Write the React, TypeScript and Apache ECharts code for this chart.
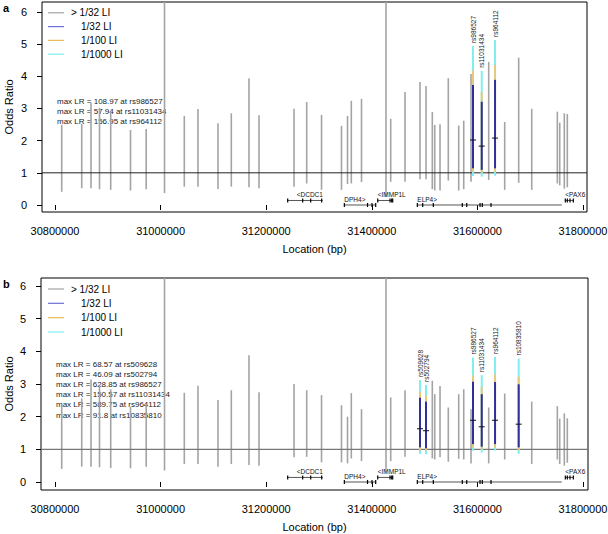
import React, { useEffect, useRef } from "react";
import * as echarts from "echarts";

const FONT = '"Liberation Sans", Arial, Helvetica, sans-serif';

// ---------- axis ticks ----------
const xTicks = [30800000, 31000000, 31200000, 31400000, 31600000, 31800000];
const yTicks = [0, 1, 2, 3, 4, 5, 6];

// ---------- SNP positions (bp) ----------
const snpPos = [
  30812700, 30850600, 30868200, 30884300, 30905500, 30943000, 30972700, 31007400,
  31044900, 31070800, 31108700, 31133900, 31167400, 31186400, 31252700, 31276700,
  31304800, 31342600, 31354000, 31361200, 31380500, 31426900, 31435800, 31462900,
  31491300, 31502700, 31514600, 31519200, 31529200, 31544900, 31564600, 31574100,
  31587900, 31591700, 31608200, 31621400, 31633400, 31651700, 31678200, 31702900,
  31751400, 31755900, 31764600, 31770300,
];
// upper limit beyond plotted range (off scale)
const OFF = 10;

// panel a: grey (> 1/32 LI) intervals; null = highlighted SNP
const grayLoA = [
  0.41, 0.52, 0.52, 0.49, 0.47, 0.45, 0.49, 0.37, 0.57, 0.57, 0.50, 0.57, 0.55, 0.52, 0.57, 0.67,
  0.47, 0.47, 0.65, 0.67, 0.71, 0.25, 0.72, 0.72, 0.80, 0.80, 0.49, 0.45, 0.45, 0.76, 0.45, 0.49,
  0.72, null, null, 0.78, null, 0.47, 0.69, 0.47, 0.67, 0.61, 0.51, 0.55,
];
const grayHiA = [
  2.49, 2.52, 3.17, 3.02, 2.90, 2.33, 2.36, OFF, 2.77, 2.98, 2.54, 2.85, 3.94, 2.79, 2.99, 3.20,
  2.80, 2.46, 2.77, 3.24, 3.30, OFF, 2.68, 3.51, 3.82, 3.70, 2.89, 2.49, 2.51, 3.94, 2.47, 2.62,
  4.07, null, null, 4.45, null, 2.58, 4.58, 2.99, 2.90, 2.56, 2.85, 2.83,
];
// panel b
const grayLoB = [
  0.40, 0.47, 0.47, 0.45, 0.43, 0.42, 0.47, 0.35, 0.55, 0.55, 0.47, 0.55, 0.52, 0.50, 0.76, 0.77,
  0.60, 0.60, 0.57, 0.72, 0.64, 0.30, 0.64, 0.77, null, null, 0.72, 0.69, 0.76, 0.62, 0.71, 0.69,
  0.57, null, null, 0.57, null, 0.69, null, 0.55, 0.69, 0.55, 0.50, 0.59,
];
const grayHiB = [
  2.35, 2.56, 3.14, 2.97, 2.84, 2.30, 2.35, OFF, 2.73, 2.95, 2.51, 2.81, 3.88, 2.75, 3.00, 2.81,
  2.66, 2.35, 2.00, 2.72, 2.23, OFF, 2.59, 2.81, null, null, 3.10, 2.69, 2.94, 2.28, 2.69, 2.84,
  2.23, null, null, 2.28, null, 2.71, null, 2.46, 2.32, 1.94, 2.10, 1.95,
];

// ---------- highlighted SNPs ----------
const hlNameA = ["rs986527", "rs11031434", "rs964112"];
const hlPosA = [31591700, 31608200, 31633400];
const hlEstA = [2.02, 1.83, 2.08];
const hlLo32A = [1.14, 1.09, 1.14];
const hlHi32A = [3.73, 3.21, 3.89];
const hlLo100A = [1.03, 1.0, 1.03];
const hlHi100A = [4.18, 3.51, 4.35];
const hlLo1000A = [0.9, 0.88, 0.91];
const hlHi1000A = [4.94, 4.17, 5.13];

const hlNameB = ["rs509628", "rs502794", "rs986527", "rs11031434", "rs964112", "rs10835810"];
const hlPosB = [31491300, 31502700, 31591700, 31608200, 31633400, 31678200];
const hlEstB = [1.63, 1.57, 1.89, 1.69, 1.89, 1.77];
const hlLo32B = [1.06, 1.03, 1.16, 1.08, 1.16, 1.06];
const hlHi32B = [2.58, 2.46, 3.07, 2.69, 3.06, 2.99];
const hlLo100B = [0.97, 0.95, 1.05, 0.99, 1.05, 0.97];
const hlHi100B = [2.76, 2.64, 3.27, 2.9, 3.3, 3.22];
const hlLo1000B = [0.86, 0.85, 0.96, 0.9, 0.96, 0.86];
const hlHi1000B = [3.12, 2.97, 3.81, 3.27, 3.83, 3.78];

// ---------- max LR annotations ----------
const maxLRA = [108.97, 57.94, 156.95];
const maxLRSnpA = ["rs986527", "rs11031434", "rs964112"];
const maxLRB = [68.57, 46.09, 628.85, 150.57, 589.75, 91.8];
const maxLRSnpB = ["rs509628", "rs502794", "rs986527", "rs11031434", "rs964112", "rs10835810"];

// ---------- genes ----------
const geneLabel = ["<DCDC1", "DPH4>", "<IMMP1L", "ELP4>", "<PAX6"];
const geneStart = [31240700, 31348000, 31411200, 31486200, 31766500];
const geneEnd = [31307000, 31407400, 31439600, 31759700, 31781700];
const geneTrack = [1, 0, 1, 0, 1];
const geneLabelPos = [31257800, 31348000, 31411200, 31486200, 31766500];
const geneExons = [
  [31240700, 31269100, 31284300, 31305100],
  [31348000, 31391900, 31400400, 31407400],
  [31411200, 31434500, 31437700, 31439600],
  [31486200, 31496400, 31516500, 31571400, 31579800, 31605000, 31609300, 31625800],
  [31766500, 31770300, 31775400, 31781700],
];

// ---------- legend ----------
const legendLabels = ["> 1/32 LI", "1/32 LI", "1/100 LI", "1/1000 LI"];

const GRAY = "#a4a4a4";
const BLUE = "#30309c";
const YELLOW = "#e9c878";
const CYAN = "#7eeeee";
const legendColors = [GRAY, "#6e6ed6", "#e8bc55", "#80eeee"];

type Panel = {
  grid: { left: number; top: number; width: number; height: number };
  xMin: number; xMax: number; yMin: number; yMax: number;
  grayLo: (number | null)[]; grayHi: (number | null)[];
  hlName: string[]; hlPos: number[]; hlEst: number[];
  lo32: number[]; hi32: number[]; lo100: number[]; hi100: number[]; lo1000: number[]; hi1000: number[];
  refColor: string; refWidth: number;
};

const panels: Panel[] = [
  {
    grid: { left: 42, top: 2, width: 545, height: 210 },
    xMin: 30775380, xMax: 31807576, yMin: -0.218, yMax: 6.31,
    grayLo: grayLoA, grayHi: grayHiA,
    hlName: hlNameA, hlPos: hlPosA, hlEst: hlEstA,
    lo32: hlLo32A, hi32: hlHi32A, lo100: hlLo100A, hi100: hlHi100A, lo1000: hlLo1000A, hi1000: hlHi1000A,
    refColor: "#222", refWidth: 1,
  },
  {
    grid: { left: 41, top: 278, width: 547, height: 212 },
    xMin: 30773480, xMax: 31809470, yMin: -0.245, yMax: 6.245,
    grayLo: grayLoB, grayHi: grayHiB,
    hlName: hlNameB, hlPos: hlPosB, hlEst: hlEstB,
    lo32: hlLo32B, hi32: hlHi32B, lo100: hlLo100B, hi100: hlHi100B, lo1000: hlLo1000B, hi1000: hlHi1000B,
    refColor: "#777", refWidth: 1.4,
  },
];

function intervalSeries(g: number, data: number[][], color: string, width: number, yMax: number, z: number) {
  return {
    type: "custom", xAxisIndex: g, yAxisIndex: g, data, z, silent: true,
    renderItem: (_p: any, api: any) => {
      const x = api.value(0);
      const lo = api.value(1);
      const hi = Math.min(api.value(2), yMax);
      const a = api.coord([x, lo]);
      const b = api.coord([x, hi]);
      return { type: "line", shape: { x1: a[0], y1: a[1], x2: b[0], y2: b[1] }, style: { stroke: color, lineWidth: width } };
    },
  };
}

function buildOption() {
  const grids: any[] = [];
  const xAxes: any[] = [];
  const yAxes: any[] = [];
  const series: any[] = [];
  const graphic: any[] = [];

  panels.forEach((P, g) => {
    grids.push({
      ...P.grid, show: true, borderColor: "#000", borderWidth: 1, backgroundColor: "transparent",
      containLabel: false, outerBoundsMode: "none",
    });
    xAxes.push({
      type: "value", gridIndex: g, min: P.xMin, max: P.xMax,
      axisLine: { show: false }, splitLine: { show: false },
      axisTick: { show: true, customValues: xTicks, length: 5, lineStyle: { color: "#000", width: 1 } },
      axisLabel: { show: true, customValues: xTicks, formatter: (v: number) => String(v), fontSize: 11, color: "#000", margin: 13, fontFamily: FONT },
      name: "Location (bp)", nameLocation: "middle", nameGap: 31,
      nameTextStyle: { fontSize: 11, color: "#000", fontFamily: FONT },
    });
    yAxes.push({
      type: "value", gridIndex: g, min: P.yMin, max: P.yMax,
      axisLine: { show: false }, splitLine: { show: false },
      axisTick: { show: true, customValues: yTicks, length: 5, lineStyle: { color: "#000", width: 1 } },
      axisLabel: { show: true, customValues: yTicks, fontSize: 11, color: "#000", margin: 15, fontFamily: FONT },
    });

    // y-axis title
    graphic.push({
      type: "text", x: 8.5, y: P.grid.top + P.grid.height / 2, rotation: Math.PI / 2,
      style: { text: "Odds Ratio", font: `11px ${FONT}`, fill: "#000", align: "center", verticalAlign: "middle" },
    });

    // reference line at OR = 1
    series.push({
      type: "custom", xAxisIndex: g, yAxisIndex: g, data: [[1]], z: 5, silent: true,
      renderItem: (params: any, api: any) => {
        const cs = params.coordSys;
        const y = api.coord([P.xMin, api.value(0)])[1];
        return { type: "line", shape: { x1: cs.x, y1: y, x2: cs.x + cs.width, y2: y }, style: { stroke: P.refColor, lineWidth: P.refWidth } };
      },
    });

    // grey intervals
    const grayData: number[][] = [];
    snpPos.forEach((p, k) => {
      const lo = P.grayLo[k];
      const hi = P.grayHi[k];
      if (lo != null && hi != null) grayData.push([p, lo, hi]);
    });
    series.push(intervalSeries(g, grayData, GRAY, 1.6, P.yMax, 2));

    // highlighted: 1/1000, 1/100, 1/32
    series.push(intervalSeries(g, P.hlPos.map((p, i) => [p, P.lo1000[i], P.hi1000[i]]), CYAN, 2, P.yMax, 6));
    series.push(intervalSeries(g, P.hlPos.map((p, i) => [p, P.lo100[i], P.hi100[i]]), YELLOW, 2, P.yMax, 7));
    series.push(intervalSeries(g, P.hlPos.map((p, i) => [p, P.lo32[i], P.hi32[i]]), BLUE, 2, P.yMax, 8));

    // point estimates
    series.push({
      type: "custom", xAxisIndex: g, yAxisIndex: g, z: 9, silent: true,
      data: P.hlPos.map((p, i) => [p, P.hlEst[i]]),
      renderItem: (_p: any, api: any) => {
        const c = api.coord([api.value(0), api.value(1)]);
        return { type: "line", shape: { x1: c[0] - 3, y1: c[1], x2: c[0] + 3, y2: c[1] }, style: { stroke: "#111", lineWidth: 1 } };
      },
    });

    // SNP names above intervals
    series.push({
      type: "custom", xAxisIndex: g, yAxisIndex: g, z: 9, silent: true,
      data: P.hlPos.map((p, i) => [p, P.hi1000[i]]),
      renderItem: (params: any, api: any) => {
        const c = api.coord([api.value(0), api.value(1)]);
        return {
          type: "text", x: c[0], y: c[1] - 3, rotation: Math.PI / 2,
          style: { text: P.hlName[params.dataIndex], fontSize: 6.5, fontFamily: FONT, fill: "#222", align: "left", verticalAlign: "middle" },
        };
      },
    });

    // genes
    series.push({
      type: "custom", xAxisIndex: g, yAxisIndex: g, z: 4, silent: true,
      data: geneStart.map((s, i) => [s, geneEnd[i], geneTrack[i], geneLabelPos[i]]),
      renderItem: (params: any, api: any) => {
        const i = params.dataIndex;
        const yv = api.value(2) === 1 ? 0.14 : 0.0;
        const a = api.coord([api.value(0), yv]);
        const b = api.coord([api.value(1), yv]);
        const lp = api.coord([api.value(3), yv]);
        const children: any[] = [
          { type: "line", shape: { x1: a[0], y1: a[1], x2: b[0], y2: b[1] }, style: { stroke: "#555", lineWidth: 1 } },
          {
            type: "text", x: lp[0], y: a[1] - 5.5,
            style: { text: geneLabel[i], fontSize: 6.5, fontFamily: FONT, fill: "#111", align: "left", verticalAlign: "middle" },
          },
        ];
        geneExons[i].forEach((e) => {
          const c = api.coord([e, yv]);
          children.push({ type: "line", shape: { x1: c[0], y1: c[1] - 2, x2: c[0], y2: c[1] + 2 }, style: { stroke: "#000", lineWidth: 1.2 } });
        });
        return { type: "group", children };
      },
    });
  });

  // panel letters
  graphic.push({ type: "text", x: 3, y: 8, style: { text: "a", font: `bold 11px ${FONT}`, fill: "#000", verticalAlign: "middle" } });
  graphic.push({ type: "text", x: 3, y: 284, style: { text: "b", font: `bold 11px ${FONT}`, fill: "#000", verticalAlign: "middle" } });

  // legends
  const legendY = [
    [12.8, 26.6, 40.4, 54.2],
    [289, 303.3, 317.7, 332],
  ];
  legendY.forEach((ys) => {
    ys.forEach((y, i) => {
      graphic.push({ type: "line", shape: { x1: 48, y1: y, x2: 64, y2: y }, style: { stroke: legendColors[i], lineWidth: 1.2 } });
      graphic.push({
        type: "text", x: i === 0 ? 71 : 81, y,
        style: { text: legendLabels[i], font: `10px ${FONT}`, fill: "#000", verticalAlign: "middle", align: "left" },
      });
    });
  });

  // max LR annotations
  maxLRA.forEach((v, i) => {
    graphic.push({ type: "text", x: 57, y: 101 + i * 10, style: { text: `max LR = ${v} at ${maxLRSnpA[i]}`, font: `8px ${FONT}`, fill: "#222", verticalAlign: "middle" } });
  });
  maxLRB.forEach((v, i) => {
    graphic.push({ type: "text", x: 56, y: 364 + i * 10.2, style: { text: `max LR = ${v} at ${maxLRSnpB[i]}`, font: `8px ${FONT}`, fill: "#222", verticalAlign: "middle" } });
  });

  return { animation: false, backgroundColor: "#fff", grid: grids, xAxis: xAxes, yAxis: yAxes, series, graphic };
}

export default function App() {
  const ref = useRef<HTMLDivElement>(null);
  useEffect(() => {
    if (!ref.current) return;
    const chart = echarts.init(ref.current, undefined, { renderer: "svg" });
    chart.setOption(buildOption() as any);
    return () => chart.dispose();
  }, []);
  return <div ref={ref} style={{ position: "fixed", left: 0, top: 0, width: 608, height: 534 }} />;
}
